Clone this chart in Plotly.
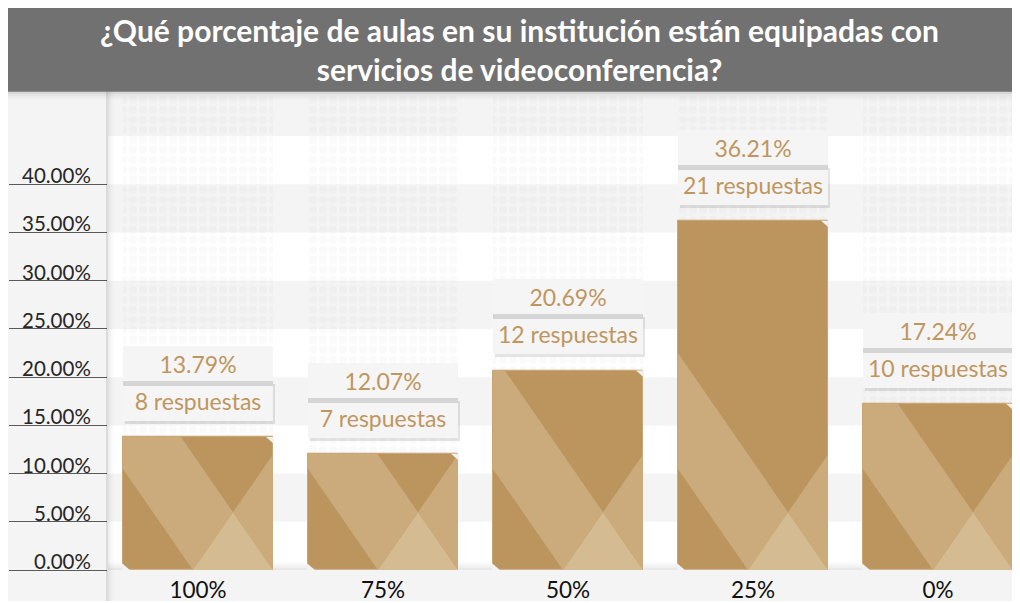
import plotly.graph_objects as go

# ---------------- data ----------------
categories = ["100%", "75%", "50%", "25%", "0%"]
percentages = [13.79, 12.07, 20.69, 36.21, 17.24]
responses = [8, 7, 12, 21, 10]
y_ticks = [0, 5, 10, 15, 20, 25, 30, 35, 40]
title_lines = ["¿Qué porcentaje de aulas en su institución están equipadas con",
               "servicios de videoconferencia?"]

# ---------------- layout constants ----------------
OFF = 8                                       # page body margin
W, H = 1020 - OFF, 603 - OFF
PL, PR, PT, PB = 108 - OFF, W, 95 - OFF, 572 - OFF   # plot area in figure px
STEP_PX = 185.0                               # px per category
FIRST_CENTER = 198.0 - OFF
X0 = -(FIRST_CENTER - PL) / STEP_PX
X1 = X0 + (PR - PL) / STEP_PX
PX_PER_PCT = 9.68
YMAX = (PB - PT) / PX_PER_PCT
BAR_W = 150 / STEP_PX
XU = (X1 - X0) / (PR - PL)                    # data units per px (x)
YU = YMAX / (PB - PT)                         # data units per px (y)

BASE = "#bc955e"
MID = "#cbab7c"
LIGHT = "#d4bb91"
LABEL_COL = "#bf9660"
FONT = "Lato"

xs = list(range(len(categories)))

fig = go.Figure()

# pattern columns behind the bars
fig.add_trace(go.Bar(
    x=xs, y=[YMAX] * len(xs), width=BAR_W,
    marker=dict(color="rgba(0,0,0,0)", line=dict(width=0),
                pattern=dict(shape=".", fgcolor="rgba(0,0,0,0.04)",
                             bgcolor="rgba(0,0,0,0)", size=10, solidity=0.5)),
    hoverinfo="skip", showlegend=False))

# main bars
fig.add_trace(go.Bar(
    x=xs, y=percentages, width=BAR_W,
    marker=dict(color=BASE, line=dict(color="#c9a571", width=1)),
    showlegend=False))

shapes = []

def px_rect(x0, x1, y0, y1, color, layer="below"):
    """rect given in figure pixel coordinates (y from top)"""
    return dict(type="rect", xref="paper", yref="paper", x0=x0 / W, x1=x1 / W,
                y0=1 - y1 / H, y1=1 - y0 / H, fillcolor=color,
                line=dict(width=0), layer=layer)

# page background
shapes.append(px_rect(0, W, 0, H, "#f4f4f4"))
# plot area white
shapes.append(px_rect(PL, PR, PT, PB, "white"))
# stripes
t_step = y_ticks[1] - y_ticks[0]
lo = t_step
while lo < YMAX:
    shapes.append(dict(type="rect", xref="paper", yref="y", x0=PL / W, x1=1,
                       y0=lo, y1=min(lo + t_step, YMAX),
                       fillcolor="#f4f4f4", line=dict(width=0), layer="below"))
    lo += 2 * t_step
# bottom soft shadow of plot area
for i, a in enumerate([0.02, 0.04, 0.06, 0.09]):
    shapes.append(px_rect(PL, PR, PB - 8 + 2 * i, PB - 6 + 2 * i, f"rgba(0,0,0,{a})"))
# title band
shapes.append(px_rect(0, W, 0, 84, "#707170", layer="above"))
for i, a in enumerate([0.12, 0.07, 0.04, 0.02]):
    shapes.append(px_rect(0, W, 84 + 2 * i, 86 + 2 * i, f"rgba(0,0,0,{a})", layer="above"))
# left divider shadow
shapes.append(px_rect(PL - 2, PL, 84, H, "rgba(0,0,0,0.10)", layer="above"))
for i, a in enumerate([0.07, 0.045, 0.025, 0.012]):
    shapes.append(px_rect(PL + 1.5 * i, PL + 1.5 * (i + 1), 84, H, f"rgba(0,0,0,{a})",
                          layer="above"))


# facets on the bars (geometry in px relative to bar bottom-left, clipped at bar top)
def clip_top(poly, hmax):
    out = []
    n = len(poly)
    for i in range(n):
        p, q = poly[i], poly[(i + 1) % n]
        pin, qin = p[1] <= hmax, q[1] <= hmax
        if pin:
            out.append(p)
        if pin != qin:
            t = (hmax - p[1]) / (q[1] - p[1])
            out.append((p[0] + t * (q[0] - p[0]), hmax))
    return out


K = 40 / 58
facets = [
    ([(70, 0), (110, 58), (0, 150 / K), (0, 70 / K)], MID),
    ([(110, 58), (150, 116), (150, 0)], MID),
    ([(70, 0), (110, 58), (150, 0)], LIGHT),
]
for xc, v in zip(xs, percentages):
    hpx = v / YU
    left = xc - BAR_W / 2
    for poly, col in facets:
        cp = clip_top(poly, hpx)
        if len(cp) < 3:
            continue
        pts = [(left + u * XU, h * YU) for u, h in cp]
        path = "M " + " L ".join(f"{a:.5f},{b:.5f}" for a, b in pts) + " Z"
        shapes.append(dict(type="path", xref="x", yref="y", path=path,
                           fillcolor=col, line=dict(width=0), layer="above"))
    # chamfered corners
    c = 7
    right = xc + BAR_W / 2
    tr = [(right - c * XU, v), (right + XU, v), (right + XU, v - c * YU)]
    bl = [(left - XU, 0), (left - XU, c * YU), (left + c * XU, 0)]
    for pts, col in ((tr, "#f1f1f1"), (bl, "#f2f2f2")):
        path = "M " + " L ".join(f"{a:.5f},{b:.5f}" for a, b in pts) + " Z"
        shapes.append(dict(type="path", xref="x", yref="y", path=path,
                           fillcolor=col, line=dict(width=0), layer="above"))

annotations = []
# title
annotations.append(dict(xref="paper", yref="paper", x=(520 - OFF) / W, y=1 - (50 - OFF) / H,
                        xanchor="center", yanchor="middle", showarrow=False,
                        text="<b>" + "<br>".join(title_lines) + "</b>",
                        font=dict(family=FONT, size=30, color="white")))
# y tick labels
for t in y_ticks:
    annotations.append(dict(xref="paper", yref="y", x=(93 - OFF) / W, y=t, xanchor="right",
                            yanchor="bottom", yshift=-5, showarrow=False,
                            text=f"{t:.2f}%", font=dict(family=FONT, size=20.5,
                                                        color="#262626")))
# value labels
for xc, v, n in zip(xs, percentages, responses):
    common = dict(xref="x", yref="y", x=xc, y=v, xanchor="center", yanchor="bottom",
                  showarrow=False, width=150, borderpad=0, borderwidth=0, valign="middle")
    annotations.append(dict(common, text=" ", height=40, yshift=13, xshift=2,
                            bgcolor="rgba(0,0,0,0.10)"))
    annotations.append(dict(common, text=f"{n} respuestas", height=40, yshift=16,
                            bgcolor="#f5f5f5",
                            font=dict(family=FONT, size=23, color=LABEL_COL)))
    annotations.append(dict(common, text=" ", height=35, yshift=51,
                            bgcolor="rgba(0,0,0,0.13)"))
    annotations.append(dict(common, text=f"{v:.2f}%", height=35, yshift=56,
                            bgcolor="#f5f5f5",
                            font=dict(family=FONT, size=23, color=LABEL_COL)))

fig.update_layout(
    width=W, height=H,
    margin=dict(l=0, r=0, t=0, b=0),
    paper_bgcolor="white",
    plot_bgcolor="rgba(0,0,0,0)",
    barmode="overlay",
    bargap=0,
    showlegend=False,
    shapes=shapes,
    annotations=annotations,
    xaxis=dict(domain=[PL / W, 1], range=[X0, X1], tickvals=xs, ticktext=categories,
               showgrid=False, zeroline=False, showline=False, ticks="",
               tickfont=dict(family=FONT, size=22.5, color="#111111"),
               ticklabelstandoff=4, fixedrange=True),
    yaxis=dict(domain=[(H - PB) / H, (H - PT) / H], range=[0, YMAX], tickvals=y_ticks,
               showticklabels=False, showgrid=False, zeroline=False, showline=False,
               ticks="outside", ticklen=98, tickwidth=1, tickcolor="#5a5a5a",
               fixedrange=True),
)

fig.write_html("out.html")
